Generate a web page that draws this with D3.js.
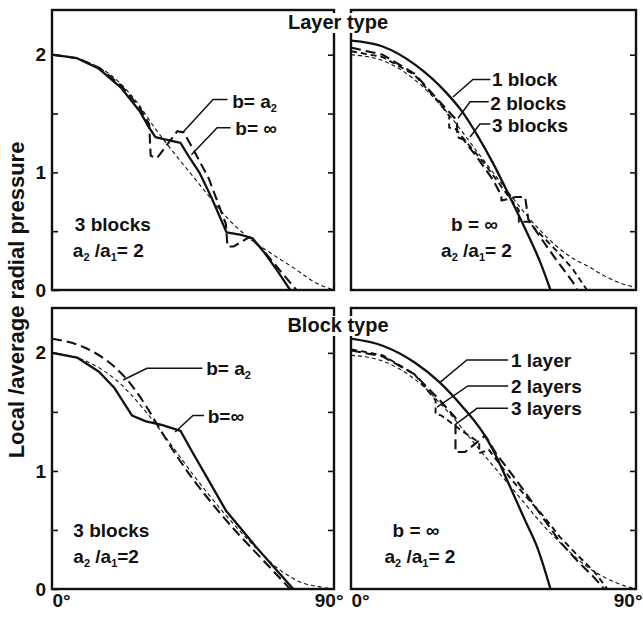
<!DOCTYPE html>
<html>
<head>
<meta charset="utf-8">
<script src="https://cdn.jsdelivr.net/npm/d3@7"></script>
<style>
  body { margin: 0; background: #fff; }
  text { font-family: "Liberation Sans", Arial, Helvetica, sans-serif; fill: #111; }
</style>
</head>
<body>
<script>
// ---- data: [angle in degrees, local/average radial pressure] ----
// Layer type, 3 blocks, a2/a1 = 2
var layer3_bInf = [[0,2.0],[8,1.97],[15,1.88],[22,1.72],[28,1.52],[31,1.38],[33,1.3],[36,1.28],[41,1.25],[44,1.12],[47,1.0],[51,0.78],[55.7,0.49],[60,0.47],[64,0.44],[68,0.31],[72,0.16],[76,0]];
var layer3_bA2 = [[0,2.0],[8,1.97],[15,1.89],[22,1.74],[28,1.55],[31,1.41],[31.5,1.14],[33.5,1.12],[40,1.35],[42,1.34],[45,1.2],[50,0.95],[55.5,0.56],[56,0.37],[58,0.37],[63,0.45],[67,0.35],[72,0.19],[78,0]];
var layer3_ref = [[0,2.0],[10,1.95],[20,1.8],[27,1.6],[33,1.37],[40,1.13],[47,0.9],[55,0.64],[62,0.46],[70,0.31],[77,0.19],[85,0.05],[90,0.0]];

// Layer type, b = inf, a2/a1 = 2
var layerInf_1 = [[0,2.12],[10,2.07],[20,1.92],[30,1.68],[35,1.52],[40,1.31],[45,1.07],[50,0.8],[55,0.52],[60,0.22],[63,0]];
var layerInf_2 = [[0,2.06],[10,2.0],[20,1.84],[28,1.6],[33.5,1.44],[33.5,1.3],[35.5,1.28],[40,1.12],[45,0.93],[47.5,0.8],[47.5,0.76],[52,0.79],[55,0.79],[56,0.6],[60,0.44],[65,0.25],[70,0.07],[71.5,0]];
var layerInf_3 = [[0,2.03],[10,1.98],[20,1.83],[27,1.62],[31,1.48],[31,1.38],[33,1.37],[37,1.24],[42,1.08],[48,0.86],[53,0.68],[53,0.58],[56,0.58],[60,0.47],[65,0.33],[70,0.18],[74.5,0]];
var layerInf_ref = [[0,2.0],[10,1.95],[20,1.79],[30,1.52],[40,1.17],[50,0.82],[55,0.65],[60,0.5],[65,0.37],[70,0.27],[75,0.2],[80,0.12],[85,0.06],[90,0.02]];

// Block type, 3 blocks, a2/a1 = 2
var block3_bInf = [[0,2.0],[8,1.96],[15,1.84],[20,1.7],[25.5,1.47],[30,1.42],[35,1.39],[41,1.34],[45,1.15],[50,0.92],[55.6,0.66],[60,0.52],[65,0.36],[70,0.21],[77,0]];
var block3_bA2 = [[0,2.12],[10,2.05],[20,1.88],[25,1.74],[30,1.55],[35,1.33],[40,1.12],[45,0.93],[50,0.76],[55,0.6],[60,0.45],[65,0.31],[70,0.17],[76,0]];
var block3_ref = [[0,2.0],[10,1.94],[20,1.78],[30,1.5],[35,1.33],[40,1.15],[45,0.97],[50,0.8],[55,0.64],[60,0.49],[65,0.35],[70,0.22],[75,0.12],[80,0.05],[85,0.02],[90,0]];

// Block type, b = inf, a2/a1 = 2
var blockInf_1 = [[0,2.12],[10,2.06],[20,1.92],[28,1.75],[35,1.55],[41.5,1.33],[45,1.17],[50,0.88],[55,0.58],[59,0.34],[63,0]];
var blockInf_2 = [[0,2.02],[10,1.97],[20,1.82],[28,1.6],[33,1.45],[33,1.16],[36,1.16],[42.4,1.3],[46,1.14],[50,1.0],[55,0.82],[60.7,0.6],[66,0.4],[71.4,0.24],[76.7,0.1],[80,0]];
var blockInf_3 = [[0,2.03],[10,1.98],[20,1.82],[26.7,1.6],[26.7,1.48],[28.5,1.47],[35,1.34],[40.5,1.24],[40.5,1.15],[43.5,1.18],[50,0.95],[55,0.79],[60.7,0.62],[66,0.44],[71,0.3],[76.7,0.15],[81,0]];
var blockInf_ref = [[0,1.98],[10,1.93],[20,1.78],[30,1.52],[40,1.2],[50,0.88],[55,0.72],[60,0.56],[65,0.42],[70,0.29],[75,0.18],[80,0.1],[85,0.04],[90,0.0]];

var yTicks = [0, 0.5, 1, 1.5, 2];
var yTickLabels = ["0", "", "1", "", "2"];
var xTicks = [0, 90];
var xTickLabels = ["0°", "90°"];

// line styles
var styles = {
  solid: { w: 2.3, dash: null },
  longdash: { w: 2.1, dash: "10,5" },
  meddash: { w: 1.9, dash: "6,4" },
  thin: { w: 1.1, dash: "4,3" }
};

var svg = d3.select("body").append("svg")
  .attr("width", 643)
  .attr("height", 618);

function ratioLabel(g, x, y, anchor, gap) {
  var t = g.append("text").attr("x", x).attr("y", y)
    .attr("text-anchor", anchor)
    .attr("font-size", 19).attr("font-weight", "bold");
  t.append("tspan").text("a");
  t.append("tspan").attr("font-size", 11).attr("dy", 4).text("2");
  t.append("tspan").attr("dy", -4).text(" /a");
  t.append("tspan").attr("font-size", 11).attr("dy", 4).text("1");
  t.append("tspan").attr("dy", -4).text(gap + "2");
}

function drawPanel(p) {
  var x = d3.scaleLinear().domain([0, 90]).range([p.x0, p.x1]);
  var y = d3.scaleLinear().domain([0, 2.38]).range([p.y1, p.y0]);
  var g = svg.append("g");

  // frame
  g.append("rect")
    .attr("x", p.x0).attr("y", p.y0)
    .attr("width", p.x1 - p.x0).attr("height", p.y1 - p.y0)
    .attr("fill", "none").attr("stroke", "#111").attr("stroke-width", 2.4);

  // inward ticks on the right edge
  var right = g.append("g")
    .attr("transform", "translate(" + p.x1 + ",0)")
    .call(d3.axisRight(y).tickValues(yTicks.slice(1)).tickSize(-6).tickFormat(""));
  right.select(".domain").remove();
  right.selectAll("line").attr("stroke", "#111").attr("stroke-width", 1.6);

  if (p.left) {
    var left = g.append("g")
      .attr("transform", "translate(" + p.x0 + ",0)")
      .call(d3.axisLeft(y).tickValues(yTicks).tickSize(-6).tickPadding(6)
        .tickFormat(function(d, i) { return yTickLabels[i]; }));
    left.select(".domain").remove();
    left.selectAll("line").attr("stroke", "#111").attr("stroke-width", 1.6);
    left.selectAll("text")
      .attr("font-size", 19).attr("font-weight", "bold")
      .attr("font-family", "Liberation Sans, Arial, sans-serif")
      .attr("fill", "#111");
  }

  if (p.bottom) {
    var bx = g.append("g")
      .attr("transform", "translate(0," + p.y1 + ")")
      .call(d3.axisBottom(x).tickValues(xTicks).tickSize(0).tickPadding(5)
        .tickFormat(function(d, i) { return xTickLabels[i]; }));
    bx.select(".domain").remove();
    bx.selectAll("text")
      .attr("font-size", 19).attr("font-weight", "bold")
      .attr("font-family", "Liberation Sans, Arial, sans-serif")
      .attr("fill", "#111")
      .attr("text-anchor", function(d) { return d === 0 ? "start" : "end"; })
      .attr("dx", function(d) { return d === 0 ? 0 : p.endDx; });
  }

  var line = d3.line()
    .x(function(d) { return x(d[0]); })
    .y(function(d) { return y(d[1]); });

  g.append("clipPath").attr("id", "clip" + p.id)
    .append("rect")
    .attr("x", p.x0).attr("y", p.y0)
    .attr("width", p.x1 - p.x0).attr("height", p.y1 - p.y0);

  var curves = g.append("g").attr("clip-path", "url(#clip" + p.id + ")");
  p.series.forEach(function(s) {
    var st = styles[s.style];
    curves.append("path")
      .datum(s.data)
      .attr("d", line.curve(s.smooth ? d3.curveMonotoneX : d3.curveLinear))
      .attr("fill", "none")
      .attr("stroke", "#111")
      .attr("stroke-width", st.w)
      .attr("stroke-linejoin", "round")
      .attr("stroke-dasharray", st.dash);
  });

  // leader lines and labels
  var leader = d3.line()
    .x(function(d) { return x(d[0]); })
    .y(function(d) { return y(d[1]); });
  p.notes.forEach(function(n) {
    g.append("path")
      .attr("d", leader(n.leader))
      .attr("fill", "none").attr("stroke", "#111").attr("stroke-width", 1.5);
    var t = g.append("text")
      .attr("x", x(n.at[0])).attr("y", y(n.at[1]))
      .attr("font-size", 19).attr("font-weight", "bold");
    if (n.sub) {
      t.append("tspan").text(n.text);
      t.append("tspan").attr("font-size", 11).attr("dy", 4).text(n.sub);
    } else {
      t.text(n.text);
    }
  });

  // case label
  var c = p.caseLabel;
  g.append("text")
    .attr("x", x(c.at[0])).attr("y", y(c.at[1]))
    .attr("text-anchor", c.anchor)
    .attr("font-size", 19).attr("font-weight", "bold")
    .text(c.text);
  ratioLabel(g, x(c.at[0]) + c.dx2, y(c.at[1]) + 26, c.anchor, c.gap);
}

drawPanel({
  id: "tl", x0: 52, x1: 334, y0: 10, y1: 290, left: true, bottom: false, endDx: 9,
  series: [
    { data: layer3_ref, style: "thin", smooth: true },
    { data: layer3_bA2, style: "longdash" },
    { data: layer3_bInf, style: "solid" }
  ],
  notes: [
    { text: "b= a", sub: "2", at: [57.5, 1.55], leader: [[56, 1.62], [51.4, 1.62], [41.8, 1.34]] },
    { text: "b= ∞", at: [58.5, 1.32], leader: [[57, 1.38], [52.7, 1.38], [44.5, 1.15]] }
  ],
  caseLabel: { text: "3 blocks", at: [7.3, 0.5], anchor: "start", dx2: -2, gap: "= " }
});

drawPanel({
  id: "tr", x0: 351, x1: 636, y0: 10, y1: 290, left: false, bottom: false, endDx: 6,
  series: [
    { data: layerInf_ref, style: "thin", smooth: true },
    { data: layerInf_3, style: "meddash" },
    { data: layerInf_2, style: "longdash" },
    { data: layerInf_1, style: "solid", smooth: true }
  ],
  notes: [
    { text: "1 block", at: [44.5, 1.73], leader: [[44, 1.79], [38.5, 1.79], [32.2, 1.64]] },
    { text: "2 blocks", at: [44, 1.53], leader: [[43.5, 1.6], [37.6, 1.6], [33.8, 1.46]] },
    { text: "3 blocks", at: [44.5, 1.34], leader: [[44, 1.41], [40.7, 1.41], [37.6, 1.3]] }
  ],
  caseLabel: { text: "b = ∞", at: [39, 0.5], anchor: "middle", dx2: 2, gap: "= " }
});

drawPanel({
  id: "bl", x0: 52, x1: 334, y0: 308, y1: 589, left: true, bottom: true, endDx: 9,
  series: [
    { data: block3_ref, style: "thin", smooth: true },
    { data: block3_bA2, style: "longdash", smooth: true },
    { data: block3_bInf, style: "solid" }
  ],
  notes: [
    { text: "b= a", sub: "2", at: [49.2, 1.81], leader: [[48, 1.87], [30.3, 1.87], [22.7, 1.77]] },
    { text: "b=∞", at: [49.7, 1.41], leader: [[48.5, 1.47], [45, 1.47], [39.3, 1.33]] }
  ],
  caseLabel: { text: "3 blocks", at: [6.8, 0.44], anchor: "start", dx2: 0, gap: "=" }
});

drawPanel({
  id: "br", x0: 351, x1: 636, y0: 308, y1: 589, left: false, bottom: true, endDx: 6,
  series: [
    { data: blockInf_ref, style: "thin", smooth: true },
    { data: blockInf_3, style: "meddash" },
    { data: blockInf_2, style: "longdash" },
    { data: blockInf_1, style: "solid", smooth: true }
  ],
  notes: [
    { text: "1 layer", at: [50.5, 1.88], leader: [[49.6, 1.94], [36.6, 1.94], [28.1, 1.75]] },
    { text: "2 layers", at: [50.5, 1.66], leader: [[49.6, 1.72], [36.9, 1.72], [27.2, 1.54]] },
    { text: "3 layers", at: [50.5, 1.47], leader: [[49.6, 1.53], [39.8, 1.53], [32.8, 1.39]] }
  ],
  caseLabel: { text: "b = ∞", at: [20.5, 0.44], anchor: "middle", dx2: 4, gap: "= " }
});

// group titles sitting over the gap between panels
function title(txt, cx, cy) {
  var t = svg.append("text")
    .attr("x", cx).attr("y", cy)
    .attr("text-anchor", "middle")
    .attr("font-size", 20).attr("font-weight", "bold")
    .text(txt);
  var bb = t.node().getBBox();
  svg.insert("rect", function() { return t.node(); })
    .attr("x", bb.x - 2).attr("y", bb.y + 2)
    .attr("width", bb.width + 4).attr("height", bb.height - 2)
    .attr("fill", "#fff");
}
title("Layer type", 338, 29);
title("Block type", 338, 332);

// y axis title
svg.append("text")
  .attr("transform", "translate(24,300) rotate(-90)")
  .attr("text-anchor", "middle")
  .attr("font-size", 22)
  .attr("font-weight", "bold")
  .text("Local /average radial pressure");
</script>
</body>
</html>
